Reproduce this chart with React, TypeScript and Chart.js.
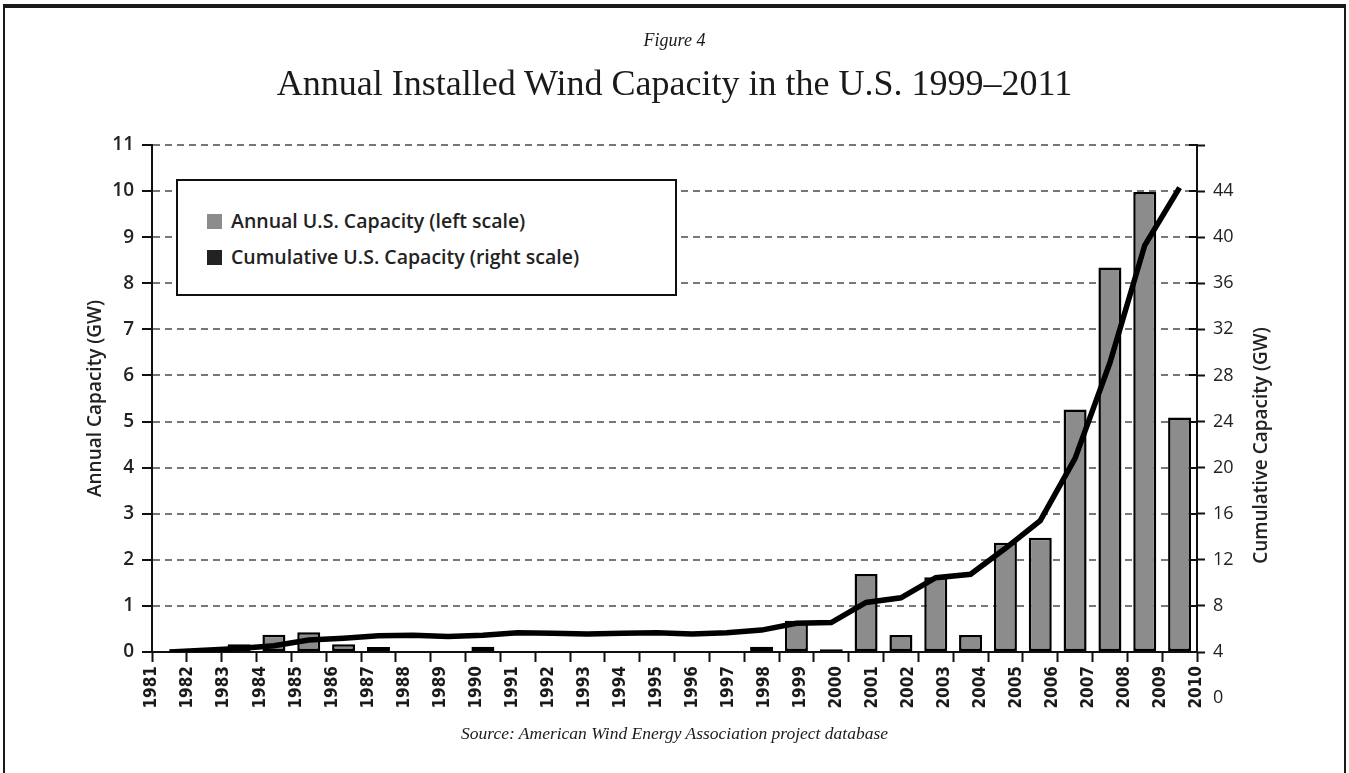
import React, { useEffect, useRef } from "react";
import { Chart, registerables } from "chart.js";

Chart.register(...registerables);

// ---------- data ----------
const years = [
  "1981", "1982", "1983", "1984", "1985", "1986", "1987", "1988", "1989", "1990",
  "1991", "1992", "1993", "1994", "1995", "1996", "1997", "1998", "1999", "2000",
  "2001", "2002", "2003", "2004", "2005", "2006", "2007", "2008", "2009", "2010",
];

// Annual installed capacity (GW, left scale)
const annualGW: (number | null)[] = [
  null, null, 0.17, 0.375, 0.43, 0.17, 0.11, null, null, 0.115,
  null, null, null, null, null, null, null, 0.115, 0.68, 0.06,
  1.69, 0.37, 1.62, 0.37, 2.37, 2.48, 5.26, 8.34, 9.98, 5.09,
];

// Cumulative capacity (GW, as read on the right scale)
const cumulativeGW = [
  4.0, 4.15, 4.3, 4.55, 5.04, 5.2, 5.4, 5.45, 5.35, 5.45,
  5.68, 5.62, 5.56, 5.62, 5.68, 5.56, 5.68, 5.9, 6.5, 6.55,
  8.3, 8.7, 10.45, 10.75, 13.0, 15.4, 20.8, 29.1, 39.3, 44.3,
];

const leftTickValues = [0, 1, 2, 3, 4, 5, 6, 7, 8, 9, 10, 11];
const rightTickLabels = [0, 4, 8, 12, 16, 20, 24, 28, 32, 36, 40, 44];

const seriesLabels = [
  "Annual U.S. Capacity (left scale)",
  "Cumulative U.S. Capacity (right scale)",
];
const leftAxisTitle = "Annual Capacity (GW)";
const rightAxisTitle = "Cumulative Capacity (GW)";
const figureLabel = "Figure 4";
const mainTitle = "Annual Installed Wind Capacity in the U.S. 1999\u20132011";
const sourceText = "Source: American Wind Energy Association project database";

// ---------- styles ----------
const BAR_FILL = "#8c8c8c";
const INK = "#101010";
const GRID = "#777777";
const SANS = "'Open Sans', 'DejaVu Sans', sans-serif";
const NARROW = "'Liberation Sans Narrow', 'DejaVu Sans Condensed', Roboto, sans-serif";
const SERIF = "'Liberation Serif', 'DejaVu Serif', serif";

const extrasPlugin = {
  id: "extras",
  afterDraw(chart: any) {
    const { ctx, chartArea } = chart;
    const y1 = chart.scales.y1;
    ctx.save();
    // inner half of the right-axis tick marks
    ctx.strokeStyle = INK;
    ctx.lineWidth = 2;
    y1.ticks.forEach((t: any) => {
      const py = Math.round(y1.getPixelForValue(t.value));
      ctx.beginPath();
      ctx.moveTo(chartArea.right - 8, py);
      ctx.lineTo(chartArea.right, py);
      ctx.stroke();
    });
    // right-scale labels that fall below the plotted range
    ctx.fillStyle = "#222";
    ctx.font = `400 18px ${SANS}`;
    ctx.textAlign = "left";
    ctx.textBaseline = "middle";
    rightTickLabels
      .filter((v) => v < y1.min)
      .forEach((v) => {
        ctx.fillText(String(v), y1.left + 16, y1.getPixelForValue(v));
      });
    // right axis title, reading bottom-to-top
    ctx.font = `600 19px ${SANS}`;
    ctx.textAlign = "center";
    ctx.textBaseline = "middle";
    ctx.translate(y1.left + 65, (chartArea.top + chartArea.bottom) / 2 + 47);
    ctx.rotate(-Math.PI / 2);
    ctx.fillText(rightAxisTitle, 0, 0);
    ctx.restore();
  },
};

export default function App() {
  const canvasRef = useRef<HTMLCanvasElement | null>(null);

  useEffect(() => {
    if (!canvasRef.current) return;
    const chart = new Chart(canvasRef.current, {
      type: "bar",
      data: {
        labels: years,
        datasets: [
          {
            type: "line",
            label: seriesLabels[1],
            data: cumulativeGW,
            yAxisID: "y1",
            xAxisID: "x",
            borderColor: "#000",
            borderWidth: 5.5,
            pointRadius: 0,
            tension: 0,
            fill: false,
            order: 1,
          } as any,
          {
            type: "bar",
            label: seriesLabels[0],
            data: annualGW,
            yAxisID: "y",
            xAxisID: "x",
            backgroundColor: BAR_FILL,
            borderColor: "#000",
            borderWidth: 2.5,
            borderSkipped: false,
            categoryPercentage: 1,
            barPercentage: 0.66,
            order: 2,
          } as any,
        ],
      },
      options: {
        responsive: false,
        animation: false,
        events: [],
        layout: { padding: { left: 60, right: 72, top: 145, bottom: 61 } },
        plugins: {
          legend: { display: false },
          tooltip: { enabled: false },
          title: { display: false },
        },
        scales: {
          x: {
            type: "category",
            position: "bottom",
            weight: 0,
            offset: true,
            grid: {
              offset: true,
              drawOnChartArea: false,
              drawTicks: true,
              tickLength: 10,
              tickColor: INK,
              tickWidth: 2,
              color: INK,
            },
            border: { display: true, color: INK, width: 2 },
            ticks: { display: false },
            afterFit: (s: any) => {
              s.height = 10;
            },
          },
          x2: {
            type: "category",
            position: "bottom",
            weight: 1,
            offset: false,
            grid: { display: false, drawTicks: false },
            border: { display: false },
            ticks: {
              autoSkip: false,
              maxRotation: 90,
              minRotation: 90,
              padding: 4,
              color: "#1a1a1a",
              font: { family: NARROW, size: 17, weight: "bold" },
            },
            afterFit: (s: any) => {
              s.height = 50;
            },
          },
          y: {
            type: "linear",
            position: "left",
            min: leftTickValues[0],
            max: leftTickValues[leftTickValues.length - 1],
            ticks: {
              stepSize: 1,
              padding: 8,
              color: "#222",
              font: { family: SANS, size: 19, weight: "600" },
            },
            grid: {
              color: (c: any) =>
                c.tick && c.tick.value === 0 ? "rgba(0,0,0,0)" : GRID,
              lineWidth: 2,
              drawTicks: true,
              tickLength: 10,
              tickColor: INK,
              tickWidth: 2,
            },
            border: { display: true, color: INK, width: 2, dash: [7, 5] },
            title: {
              display: true,
              text: leftAxisTitle,
              color: "#222",
              font: { family: SANS, size: 19, weight: "600" },
              padding: { top: 24, bottom: 0 },
            },
            afterFit: (s: any) => {
              s.width = 92;
            },
          },
          y1: {
            type: "linear",
            position: "right",
            min: 4,
            max: 48,
            ticks: {
              stepSize: 4,
              padding: 8,
              color: "#222",
              font: { family: SANS, size: 18, weight: "400" },
              callback: (v: any) =>
                rightTickLabels.includes(Number(v)) ? String(v) : "",
            },
            grid: {
              drawOnChartArea: false,
              drawTicks: true,
              tickLength: 8,
              tickColor: INK,
              tickWidth: 2,
            },
            border: { display: true, color: INK, width: 2 },
            afterFit: (s: any) => {
              s.width = 80;
            },
          },
        },
      } as any,
      plugins: [extrasPlugin],
    });
    return () => chart.destroy();
  }, []);

  return (
    <div
      style={{
        position: "fixed",
        left: 0,
        top: 0,
        width: 1349,
        height: 773,
        background: "#fff",
        overflow: "hidden",
      }}
    >
      {/* frame */}
      <div
        style={{
          position: "absolute",
          left: 3,
          top: 4,
          width: 1339,
          height: 820,
          borderTop: "4px solid #1a1a1a",
          borderLeft: "2px solid #1a1a1a",
          borderRight: "2px solid #1a1a1a",
        }}
      />
      <canvas
        ref={canvasRef}
        width={1349}
        height={773}
        style={{ position: "absolute", left: 0, top: 0, width: 1349, height: 773 }}
      />
      <div
        style={{
          position: "absolute",
          left: 0,
          width: 1349,
          top: 31,
          textAlign: "center",
          fontFamily: SERIF,
          fontStyle: "italic",
          fontSize: 18,
          lineHeight: "18px",
          color: "#1a1a1a",
        }}
      >
        {figureLabel}
      </div>
      <div
        style={{
          position: "absolute",
          left: 0,
          width: 1349,
          top: 65,
          textAlign: "center",
          fontFamily: SERIF,
          fontSize: 36,
          lineHeight: "36px",
          color: "#1a1a1a",
        }}
      >
        {mainTitle}
      </div>
      <div
        style={{
          position: "absolute",
          left: 0,
          width: 1349,
          top: 725,
          textAlign: "center",
          fontFamily: SERIF,
          fontStyle: "italic",
          fontSize: 17.5,
          lineHeight: "17.5px",
          color: "#1a1a1a",
        }}
      >
        {sourceText}
      </div>
      {/* legend */}
      <div
        style={{
          position: "absolute",
          left: 176,
          top: 179,
          width: 501,
          height: 117,
          boxSizing: "border-box",
          border: `2px solid ${INK}`,
          background: "#fff",
          fontFamily: SANS,
          fontWeight: 600,
          fontSize: 19.5,
          color: "#222",
        }}
      >
        {[BAR_FILL, "#222"].map((c, i) => (
          <div
            key={i}
            style={{
              position: "absolute",
              left: 29,
              top: 28 + i * 36,
              height: 24,
              display: "flex",
              alignItems: "center",
              whiteSpace: "nowrap",
            }}
          >
            <span
              style={{
                display: "inline-block",
                width: 15,
                height: 15,
                background: c,
                marginRight: 9,
              }}
            />
            <span style={{ lineHeight: "24px" }}>{seriesLabels[i]}</span>
          </div>
        ))}
      </div>
    </div>
  );
}
